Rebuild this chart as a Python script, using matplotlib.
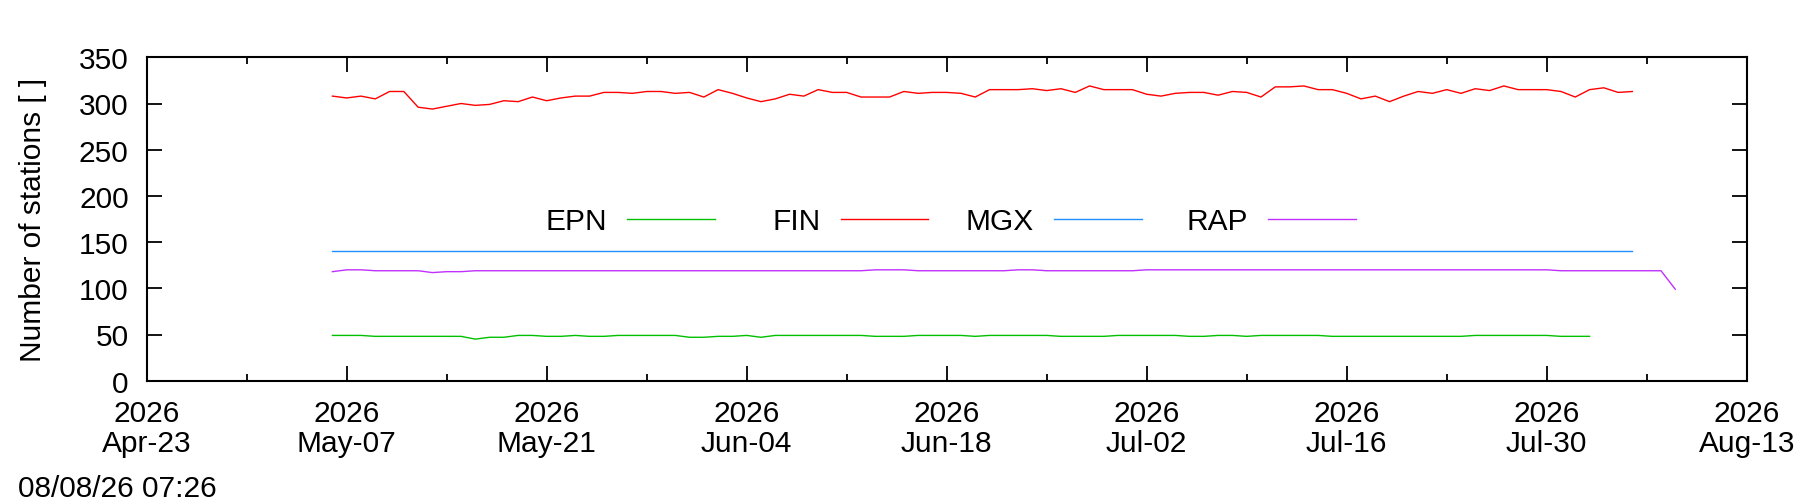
import matplotlib
matplotlib.use('Agg')
import matplotlib.pyplot as plt
import matplotlib.dates as mdates
from matplotlib.lines import Line2D
import numpy as np

plt.rcParams['font.family'] = ['Liberation Sans', 'DejaVu Sans']

# daily station counts, every series starts on 2026-05-06
first_day = np.datetime64('2026-05-06')

epn = [49, 49, 49, 48, 48, 48, 48, 48, 48, 48, 45, 47, 47, 49, 49, 48, 48, 49, 48, 48,
       49, 49, 49, 49, 49, 47, 47, 48, 48, 49, 47, 49, 49, 49, 49, 49, 49, 49, 48, 48,
       48, 49, 49, 49, 49, 48, 49, 49, 49, 49, 49, 48, 48, 48, 48, 49, 49, 49, 49, 49,
       48, 48, 49, 49, 48, 49, 49, 49, 49, 49, 48, 48, 48, 48, 48, 48, 48, 48, 48, 48,
       49, 49, 49, 49, 49, 49, 48, 48, 48]

fin = [308, 306, 308, 305, 313, 313, 296, 294, 297, 300, 298, 299, 303, 302, 307, 303,
       306, 308, 308, 312, 312, 311, 313, 313, 311, 312, 307, 315, 311, 306, 302, 305,
       310, 308, 315, 312, 312, 307, 307, 307, 313, 311, 312, 312, 311, 307, 315, 315,
       315, 316, 314, 316, 312, 319, 315, 315, 315, 310, 308, 311, 312, 312, 309, 313,
       312, 307, 318, 318, 319, 315, 315, 311, 305, 308, 302, 308, 313, 311, 315, 311,
       316, 314, 319, 315, 315, 315, 313, 307, 315, 317, 312, 313]

mgx = [140, 140, 140, 140, 140, 140, 140, 140, 140, 140, 140, 140, 140, 140, 140, 140,
       140, 140, 140, 140, 140, 140, 140, 140, 140, 140, 140, 140, 140, 140, 140, 140,
       140, 140, 140, 140, 140, 140, 140, 140, 140, 140, 140, 140, 140, 140, 140, 140,
       140, 140, 140, 140, 140, 140, 140, 140, 140, 140, 140, 140, 140, 140, 140, 140,
       140, 140, 140, 140, 140, 140, 140, 140, 140, 140, 140, 140, 140, 140, 140, 140,
       140, 140, 140, 140, 140, 140, 140, 140, 140, 140, 140, 140]

rap = [118, 120, 120, 119, 119, 119, 119, 117, 118, 118, 119, 119, 119, 119, 119, 119,
       119, 119, 119, 119, 119, 119, 119, 119, 119, 119, 119, 119, 119, 119, 119, 119,
       119, 119, 119, 119, 119, 119, 120, 120, 120, 119, 119, 119, 119, 119, 119, 119,
       120, 120, 119, 119, 119, 119, 119, 119, 119, 120, 120, 120, 120, 120, 120, 120,
       120, 120, 120, 120, 120, 120, 120, 120, 120, 120, 120, 120, 120, 120, 120, 120,
       120, 120, 120, 120, 120, 120, 119, 119, 119, 119, 119, 119, 119, 119, 99]

series = [('EPN', epn, '#00c000'), ('FIN', fin, '#ff0000'),
          ('MGX', mgx, '#1e90ff'), ('RAP', rap, '#c030ff')]

x_start = np.datetime64('2026-04-23')
x_end = np.datetime64('2026-08-13')
y_ticks = [0, 50, 100, 150, 200, 250, 300, 350]
stamp = '08/08/26 07:26'

FS = 21.5
W, H = 1800, 502
fig = plt.figure(figsize=(W / 100, H / 100), dpi=100)
ax = fig.add_axes([146.7 / W, 1 - 381.7 / H, 1600 / W, 323.4 / H])

for name, vals, col in series:
    days = first_day + np.arange(len(vals))
    ax.plot(days, vals, color=col, lw=1.0)

ax.set_xlim(x_start, x_end)
ax.set_ylim(0, 350)
ax.set_yticks(y_ticks)

major = x_start + np.arange(0, 113, 14)
minor = x_start + np.arange(7, 113, 14)
ax.set_xticks(major)
ax.set_xticks(minor, minor=True)
ax.xaxis.set_major_formatter(mdates.DateFormatter('%Y\n%b-%d'))

for s in ax.spines.values():
    s.set_linewidth(1.5)
ax.tick_params(which='both', direction='in', top=True, right=True, width=1.3, labelsize=FS)
ax.tick_params(which='major', length=11)
ax.tick_params(which='minor', length=5)
ax.tick_params(axis='x', pad=13)
ax.tick_params(axis='y', pad=13)
fig.canvas.draw()
for lab in ax.get_xticklabels():
    lab.set_linespacing(1.1)

ax.set_ylabel('Number of stations [ ]', fontsize=FS)
ax.yaxis.set_label_coords(-0.062, 0.5)

# key, laid out like the gnuplot one
for i, (name, vals, col) in enumerate(series):
    off = i * 213.7
    fig.text((606.7 + off) / W, 1 - 230 / H, name, ha='right', va='baseline', fontsize=FS)
    fig.add_artist(Line2D([(627 + off) / W, (714.7 + off) / W], [1 - 219.7 / H] * 2,
                          color=col, lw=1.0, transform=fig.transFigure))

fig.text(18 / W, 1 - 497 / H, stamp, ha='left', va='baseline', fontsize=FS)

fig.savefig('out.png', dpi=100)
